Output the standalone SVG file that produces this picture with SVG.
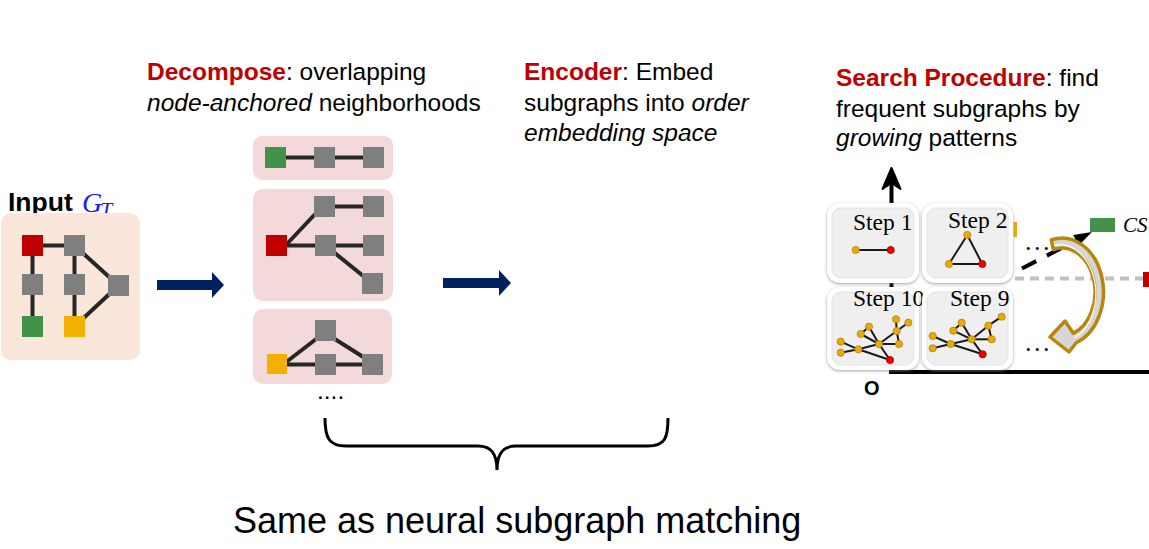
<svg xmlns="http://www.w3.org/2000/svg" width="1149" height="549" viewBox="0 0 1149 549">
<defs>
<style>
.t{font-family:"Liberation Sans",Arial,sans-serif;font-size:24.5px;fill:#000}
.r{fill:#c00000;font-weight:bold}
.g{fill:#7f7f7f}
.e{stroke:#262626;stroke-width:4;fill:none}
.panel{fill:#f4d9da}
.se{stroke:#1a1a1a;stroke-width:2;fill:none}
.yn{fill:#e9a90e;stroke:#b78200;stroke-width:0.8}
.rn{fill:#ee0000;stroke:#a00000;stroke-width:0.8}
.step{font-family:"Liberation Serif","Times New Roman",serif;font-size:23.5px;fill:#000}
.dots{font-family:"Liberation Serif","Times New Roman",serif;font-size:26px;letter-spacing:2.5px;fill:#000}
.boxo{fill:#ffffff}
.boxi{fill:#efefef;stroke:#e3e3e3;stroke-width:1}
.navy{fill:#002060}
</style>
<filter id="sh" x="-15%" y="-15%" width="130%" height="130%">
<feDropShadow dx="0" dy="1" stdDeviation="1.6" flood-color="#7a7a7a" flood-opacity="0.7"/>
</filter>
</defs>

<rect width="1149" height="549" fill="#ffffff"/>

<!-- Titles -->
<g id="title-decompose">
<text class="t" x="147" y="80"><tspan class="r">Decompose</tspan>: overlapping</text>
<text class="t" x="147" y="111"><tspan font-style="italic">node-anchored</tspan> neighborhoods</text>
</g>
<g id="title-encoder">
<text class="t" x="524" y="80"><tspan class="r">Encoder</tspan>: Embed</text>
<text class="t" x="524" y="110.5">subgraphs into <tspan font-style="italic">order</tspan></text>
<text class="t" x="524" y="141" font-style="italic">embedding space</text>
</g>
<g id="title-search">
<text class="t" x="836" y="86"><tspan class="r">Search Procedure</tspan>: find</text>
<text class="t" x="836" y="116.5">frequent subgraphs by</text>
<text class="t" x="836" y="146"><tspan font-style="italic">growing</tspan> patterns</text>
</g>

<!-- Input graph -->
<g id="input">
<text x="8" y="211" font-family="'Liberation Sans',Arial,sans-serif" font-weight="bold" font-size="26.5" fill="#000">Input</text>
<text x="82" y="211.5" font-family="'Liberation Serif','Times New Roman',serif" font-style="italic" font-size="28" fill="#1a1aff">G</text>
<text x="100" y="217" font-family="'Liberation Serif','Times New Roman',serif" font-style="italic" font-size="22" fill="#1a1aff">T</text>
<rect x="1" y="213" width="139" height="147" rx="10" fill="#fae6da"/>
<g class="e">
<line x1="32.5" y1="245.5" x2="74.5" y2="245.5"/>
<line x1="32.5" y1="245.5" x2="32.5" y2="326.5"/>
<line x1="74.5" y1="245.5" x2="74.5" y2="326.5"/>
<line x1="74.5" y1="245.5" x2="118.5" y2="285.5"/>
<line x1="118.5" y1="285.5" x2="74.5" y2="326.5"/>
</g>
<rect x="22" y="235" width="21" height="21" fill="#c00000"/>
<rect x="64" y="235" width="21" height="21" class="g"/>
<rect x="22" y="274" width="21" height="21" class="g"/>
<rect x="64" y="274" width="21" height="21" class="g"/>
<rect x="108" y="275" width="21" height="21" class="g"/>
<rect x="22" y="316" width="21" height="21" fill="#43924a"/>
<rect x="64" y="316" width="21" height="21" fill="#f2b000"/>
</g>

<!-- Decompose panels -->
<g id="panel-1">
<rect x="253" y="136" width="140" height="44" rx="9" class="panel"/>
<line class="e" x1="275.5" y1="157.5" x2="373.5" y2="157.5"/>
<rect x="265" y="147" width="21" height="21" fill="#43924a"/>
<rect x="314" y="147" width="21" height="21" class="g"/>
<rect x="363" y="147" width="21" height="21" class="g"/>
</g>
<g id="panel-2">
<rect x="253" y="189" width="140" height="112" rx="10" class="panel"/>
<g class="e">
<line x1="285" y1="246" x2="318" y2="211"/>
<line x1="276.5" y1="245.5" x2="373.5" y2="245.5"/>
<line x1="324.5" y1="206.5" x2="373.5" y2="206.5"/>
<line x1="325.5" y1="245.5" x2="372.5" y2="283.5"/>
</g>
<rect x="314" y="196" width="21" height="21" class="g"/>
<rect x="363" y="196" width="21" height="21" class="g"/>
<rect x="266" y="235" width="21" height="21" fill="#c00000"/>
<rect x="315" y="235" width="21" height="21" class="g"/>
<rect x="363" y="235" width="21" height="21" class="g"/>
<rect x="362" y="273" width="21" height="21" class="g"/>
</g>
<g id="panel-3">
<rect x="253" y="309" width="139" height="75" rx="10" class="panel"/>
<g class="e">
<line x1="285" y1="363" x2="320" y2="336"/>
<line x1="277" y1="364.5" x2="372.5" y2="364.5"/>
<line x1="330" y1="336" x2="368" y2="360"/>
</g>
<rect x="315" y="320" width="21" height="21" class="g"/>
<rect x="267" y="354" width="20" height="20" fill="#f2b000"/>
<rect x="315" y="354" width="21" height="21" class="g"/>
<rect x="362" y="354" width="21" height="21" class="g"/>
</g>
<text id="more-panels" class="t" x="317" y="399" font-size="22">....</text>

<!-- Connectors: block arrows -->
<g id="connectors">
<polygon class="navy" points="157,280 212,280 212,272 224,285 212,298 212,290 157,290"/>
<polygon class="navy" points="443,278 499,278 499,270 511,283 499,296 499,288 443,288"/>
</g>

<!-- Search procedure scene -->
<g id="search-scene">
<!-- axes -->
<line x1="891.5" y1="373" x2="891.5" y2="180" stroke="#000" stroke-width="4"/>
<polygon points="891.5,168 882.5,189 891.5,183 900.5,189" fill="#000" stroke="#000" stroke-width="2" stroke-linejoin="round"/>
<line x1="889" y1="372" x2="1149" y2="372" stroke="#000" stroke-width="4"/>
<!-- gray dashed line and side marks -->
<line x1="1000" y1="278.5" x2="1143" y2="278.5" stroke="#c0c0c0" stroke-width="4" stroke-dasharray="9 6"/>
<rect x="1143" y="272" width="10" height="15" fill="#c00000"/>
<rect x="1013.5" y="222" width="3.5" height="15" fill="#e9a90e"/>

<g id="step1">
<rect class="boxo" x="827" y="203" width="92" height="80" rx="13" filter="url(#sh)"/>
<rect class="boxi" x="832" y="208" width="82" height="70" rx="9"/>
<text class="step" x="853" y="230">Step 1</text>
<line class="se" x1="855.7" y1="250" x2="890.7" y2="250"/>
<circle class="yn" cx="855.7" cy="250" r="3.6"/>
<circle class="rn" cx="890.7" cy="250" r="3.6"/>
</g>
<g id="step2">
<rect class="boxo" x="922" y="203" width="91" height="80" rx="13" filter="url(#sh)"/>
<rect class="boxi" x="927" y="208" width="81" height="70" rx="9"/>
<text class="step" x="948" y="228">Step 2</text>
<polygon class="se" points="967.3,235 949,264 982.3,264"/>
<circle class="yn" cx="967.3" cy="235" r="3.6"/>
<circle class="yn" cx="949" cy="264" r="3.6"/>
<circle class="rn" cx="982.3" cy="264" r="3.6"/>
</g>
<g id="step10">
<rect class="boxo" x="827" y="287" width="92" height="83" rx="13" filter="url(#sh)"/>
<rect class="boxi" x="832" y="292" width="82" height="73" rx="9"/>
<text class="step" x="853" y="306">Step 10</text>
<g class="se">
<line x1="840.7" y1="341.7" x2="858.3" y2="349.3"/>
<line x1="840.7" y1="352.7" x2="858.3" y2="349.3"/>
<line x1="858.3" y1="349.3" x2="879" y2="344"/>
<line x1="858.3" y1="349.3" x2="890" y2="360"/>
<line x1="860.7" y1="334" x2="869" y2="326.7"/>
<line x1="869" y1="326.7" x2="879" y2="344"/>
<line x1="860.7" y1="334" x2="879" y2="344"/>
<line x1="879" y1="344" x2="896.7" y2="331"/>
<line x1="896.7" y1="331" x2="896" y2="319.3"/>
<line x1="896.7" y1="331" x2="908.3" y2="322.7"/>
<line x1="896.7" y1="331" x2="899" y2="344"/>
<line x1="879" y1="344" x2="899" y2="344"/>
<line x1="879" y1="344" x2="890" y2="360"/>
</g>
<circle class="yn" cx="840.7" cy="341.7" r="3.6"/>
<circle class="yn" cx="840.7" cy="352.7" r="3.6"/>
<circle class="yn" cx="858.3" cy="349.3" r="3.6"/>
<circle class="yn" cx="869" cy="326.7" r="3.6"/>
<circle class="yn" cx="860.7" cy="334" r="3.6"/>
<circle class="yn" cx="879" cy="344" r="3.6"/>
<circle class="yn" cx="896" cy="319.3" r="3.6"/>
<circle class="yn" cx="908.3" cy="322.7" r="3.6"/>
<circle class="yn" cx="896.7" cy="331" r="3.6"/>
<circle class="yn" cx="899" cy="344" r="3.6"/>
<circle class="rn" cx="890" cy="360" r="3.6"/>
</g>
<g id="step9">
<rect class="boxo" x="922" y="287" width="91" height="83" rx="13" filter="url(#sh)"/>
<rect class="boxi" x="927" y="292" width="81" height="73" rx="9"/>
<text class="step" x="950" y="306">Step 9</text>
<g class="se">
<line x1="932.7" y1="336" x2="950.7" y2="344"/>
<line x1="932.7" y1="348.3" x2="950.7" y2="344"/>
<line x1="950.7" y1="344" x2="971.7" y2="339.3"/>
<line x1="950.7" y1="344" x2="982.7" y2="354.3"/>
<line x1="953.3" y1="330.7" x2="961.7" y2="322.7"/>
<line x1="961.7" y1="322.7" x2="971.7" y2="339.3"/>
<line x1="953.3" y1="330.7" x2="971.7" y2="339.3"/>
<line x1="971.7" y1="339.3" x2="988.3" y2="325.7"/>
<line x1="988.3" y1="325.7" x2="1001.7" y2="316.7"/>
<line x1="988.3" y1="325.7" x2="991.7" y2="339.3"/>
<line x1="971.7" y1="339.3" x2="991.7" y2="339.3"/>
<line x1="971.7" y1="339.3" x2="982.7" y2="354.3"/>
</g>
<circle class="yn" cx="932.7" cy="336" r="3.6"/>
<circle class="yn" cx="932.7" cy="348.3" r="3.6"/>
<circle class="yn" cx="950.7" cy="344" r="3.6"/>
<circle class="yn" cx="961.7" cy="322.7" r="3.6"/>
<circle class="yn" cx="953.3" cy="330.7" r="3.6"/>
<circle class="yn" cx="971.7" cy="339.3" r="3.6"/>
<circle class="yn" cx="988.3" cy="325.7" r="3.6"/>
<circle class="yn" cx="1001.7" cy="316.7" r="3.6"/>
<circle class="yn" cx="991.7" cy="339.3" r="3.6"/>
<circle class="rn" cx="982.7" cy="354.3" r="3.6"/>
</g>

<text class="dots" x="1025" y="249.5">...</text>
<text class="dots" x="1025" y="350.5">...</text>

<!-- black dashed arrow to CS -->
<line x1="1022" y1="268.5" x2="1077" y2="240" stroke="#000" stroke-width="4" stroke-dasharray="16 12"/>
<polygon points="1092,232 1078.8,245.6 1073.2,235" fill="#000"/>

<!-- golden curved arrow -->
<path d="M1051.26,239.84 A41.5,54 0 0 1 1076.19,342.74 L1069,352 L1050,337 L1065,321 L1073.29,333.35 A33,44 0 0 0 1053.46,249.5 Z" fill="#d6d6d6" stroke="#b8860b" stroke-width="3.5" stroke-linejoin="round"/>
<path d="M1054,245 A37,49 0 0 1 1074.5,338" fill="none" stroke="#ffffff" stroke-width="1.4" opacity="0.85"/>

<rect x="1090" y="218" width="25" height="14" fill="#43924a"/>
<text x="1123" y="232" font-family="'Liberation Serif','Times New Roman',serif" font-style="italic" font-size="21" fill="#000">CS</text>

<text x="864" y="395" font-family="'Liberation Sans',Arial,sans-serif" font-weight="bold" font-size="20" fill="#000">O</text>
</g>

<!-- Brace and caption -->
<g id="brace">
<path d="M325,418 C325,438 329,446 346,446 L478,446 C490,446 497,452 497,470 C497,452 504,446 516,446 L648,446 C665,446 668,438 668,418" fill="none" stroke="#000" stroke-width="3"/>
<text x="233" y="533" font-family="'Liberation Sans',Arial,sans-serif" font-size="36" fill="#000">Same as neural subgraph matching</text>
</g>
</svg>
